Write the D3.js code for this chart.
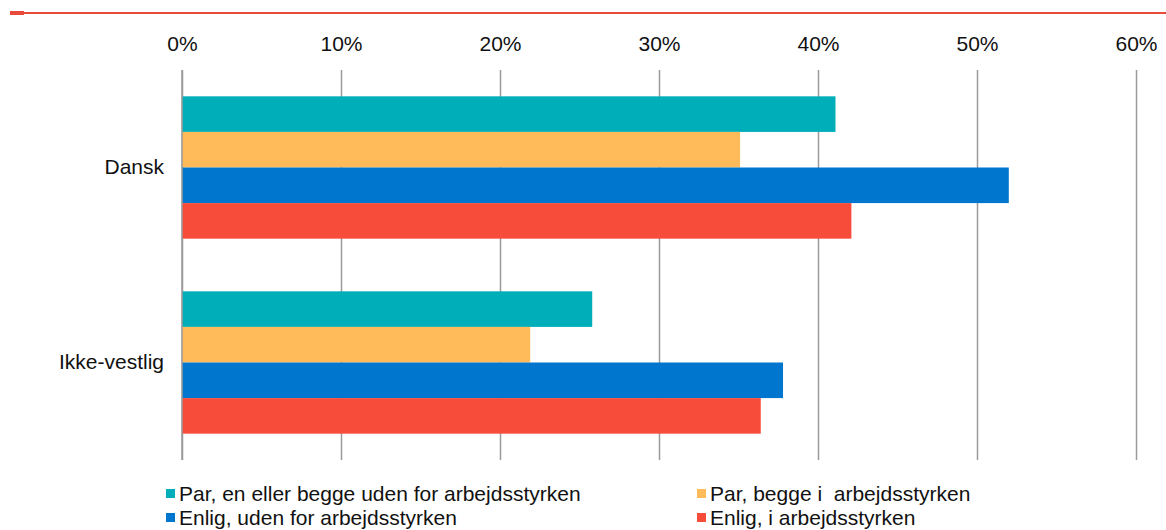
<!DOCTYPE html>
<html>
<head>
<meta charset="utf-8">
<script src="https://cdn.jsdelivr.net/npm/d3@7"></script>
<style>
  body { margin: 0; background: #fff; }
  svg { display: block; font-family: "Liberation Sans", Arial, sans-serif; }
</style>
</head>
<body>
<div class="chart"></div>
<script>
// data
const categories = ['Dansk', 'Ikke-vestlig'];
const seriesNames = [
  'Par, en eller begge uden for arbejdsstyrken',
  'Par, begge i  arbejdsstyrken',
  'Enlig, uden for arbejdsstyrken',
  'Enlig, i arbejdsstyrken'
];
const seriesColors = ['#00aeb9', '#ffba5a', '#0076ce', '#f84c3b'];
// values per series, one per category (share)
const parUden = [0.411, 0.258];
const parBegge = [0.351, 0.219];
const enligUden = [0.520, 0.378];
const enligI = [0.421, 0.364];
const xTicks = [0, 0.1, 0.2, 0.3, 0.4, 0.5, 0.6];

const seriesValues = [parUden, parBegge, enligUden, enligI];

const width = 1166, height = 530;
const svg = d3.select('.chart').append('svg')
  .attr('width', width).attr('height', height);

// top red rule
svg.append('line')
  .attr('x1', 10).attr('x2', width).attr('y1', 13).attr('y2', 13)
  .style('stroke', '#ea4a3b').style('stroke-width', 2);
svg.append('rect')
  .attr('x', 10).attr('y', 11).attr('width', 14).attr('height', 4)
  .style('fill', '#ea4a3b');

const plot = {left: 182, right: 1136, top: 70, bottom: 460};

const xScale = d3.scaleLinear([0, 0.6], [plot.left, plot.right]);
const yScale = d3.scaleBand().domain(categories)
  .range([plot.top, plot.bottom]).paddingInner(0.27).paddingOuter(0.135);
const ySub = d3.scaleBand().domain(d3.range(seriesNames.length))
  .range([0, yScale.bandwidth()]);

// gridlines + tick labels
const xAxis = d3.axisTop(xScale).tickValues(xTicks)
  .tickFormat(d3.format('.0%'))
  .tickSizeInner(-(plot.bottom - plot.top)).tickSizeOuter(0).tickPadding(19);
const xAxisDraw = svg.append('g').attr('class', 'x axis')
  .attr('transform', `translate(0,${plot.top})`).call(xAxis);
xAxisDraw.select('.domain').remove();
xAxisDraw.selectAll('line').style('stroke', '#9a9a9a').style('stroke-width', 1.5);
xAxisDraw.selectAll('text').style('font-size', '21px').style('fill', '#111')
  .style('font-family', '"Liberation Sans", Arial, sans-serif');

// bars
const rows = [];
categories.forEach((c, ci) => {
  seriesValues.forEach((vals, si) => rows.push({cat: c, s: si, v: vals[ci]}));
});
svg.append('g').attr('class', 'bars').selectAll('.bar').data(rows).join('rect')
  .attr('class', 'bar')
  .attr('x', xScale(0))
  .attr('y', d => yScale(d.cat) + ySub(d.s))
  .attr('width', d => xScale(d.v) - xScale(0))
  .attr('height', ySub.bandwidth())
  .style('fill', d => seriesColors[d.s]);

// zero line over bars
svg.append('line')
  .attr('x1', xScale(0)).attr('x2', xScale(0))
  .attr('y1', plot.top).attr('y2', plot.bottom)
  .style('stroke', '#9a9a9a').style('stroke-width', 1.5);

// category labels
const yAxis = d3.axisLeft(yScale).tickSize(0).tickPadding(18);
const yAxisDraw = svg.append('g').attr('class', 'y axis')
  .attr('transform', `translate(${plot.left},0)`).call(yAxis);
yAxisDraw.select('.domain').remove();
yAxisDraw.selectAll('text').style('font-size', '21px').style('fill', '#111')
  .style('font-family', '"Liberation Sans", Arial, sans-serif');

// legend
const legendPos = [[166, 501], [697, 501], [166, 525], [697, 525]];
const legend = svg.append('g').attr('class', 'legend').selectAll('g')
  .data(seriesNames).join('g')
  .attr('transform', (d, i) => `translate(${legendPos[i][0]},${legendPos[i][1]})`);
legend.append('rect')
  .attr('x', 0).attr('y', -12).attr('width', 9).attr('height', 9)
  .style('fill', (d, i) => seriesColors[i]);
legend.append('text')
  .attr('x', 13).attr('y', 0)
  .style('font-size', '21px').style('fill', '#111')
  .style('white-space', 'pre')
  .text(d => d);
</script>
</body>
</html>
